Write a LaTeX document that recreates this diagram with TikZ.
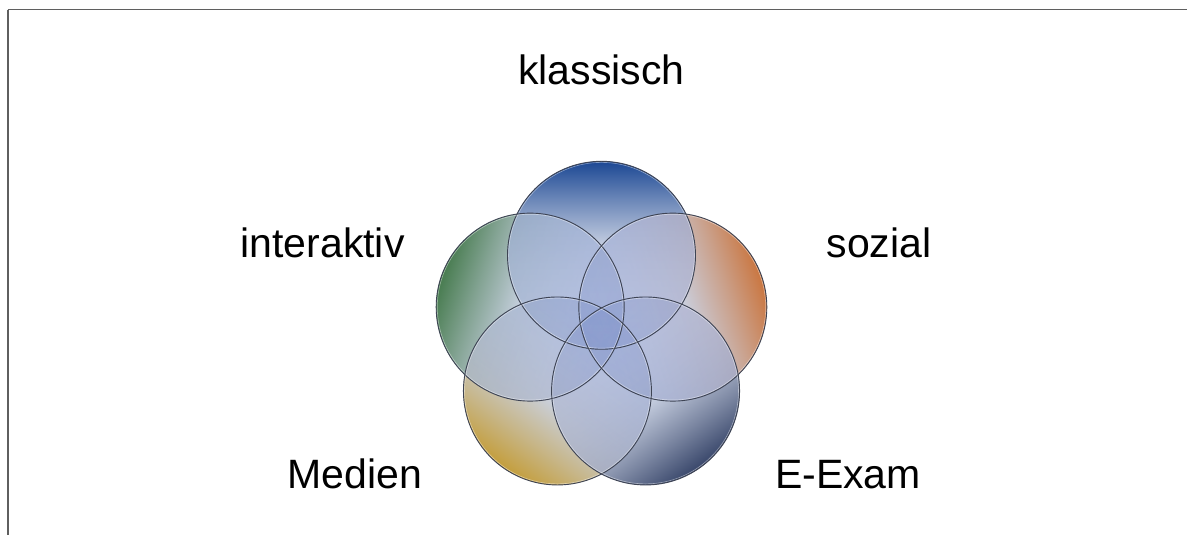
\documentclass[tikz,border=0pt]{standalone}
\usepackage{fontspec}
\setmainfont{Liberation Sans}
\usetikzlibrary{fadings,calc}

\definecolor{frameGray}{RGB}{95,95,95}
\definecolor{toneTop}{RGB}{28,72,148}
\definecolor{toneLeft}{RGB}{72,124,80}
\definecolor{toneRight}{RGB}{202,118,64}
\definecolor{toneLowLeft}{RGB}{196,158,60}
\definecolor{toneLowRight}{RGB}{56,70,106}
\definecolor{paleTone}{RGB}{202,210,227}
\definecolor{innerTone}{RGB}{178,190,227}
\definecolor{veilTone}{RGB}{113,135,199}
\definecolor{rimTone}{RGB}{62,68,84}
\colorlet{lobeBase}{toneTop}

% rim colour at the top, easing to a pale tone towards the middle,
% periwinkle below (the path spans 25bp..75bp of the shading)
\pgfdeclareverticalshading[lobeBase]{lobeshade}{100bp}{%
  color(0bp)=(innerTone); color(40bp)=(innerTone); color(52bp)=(paleTone);
  color(65bp)=(lobeBase!55!paleTone); color(75bp)=(lobeBase); color(100bp)=(lobeBase)}

% opaque at the outer rim, clear from the middle inwards
\tikzfading[name=edgefade, top color=transparent!0, middle color=transparent!100, bottom color=transparent!100]

\tikzset{
  veil/.style={fill=veilTone, fill opacity=0.3},
  lobe/.style={shading=lobeshade, shading angle=#1},
  tint/.style 2 args={path fading=edgefade, fading angle=#2, fill opacity=0.25,
    top color=#1, middle color=paleTone, bottom color=paleTone, shading angle=#2},
  rim/.style={draw=rimTone, line width=0.9pt},
  glint/.style={draw=white, line width=0.6pt, opacity=0.45},
  label/.style={font=\fontsize{41}{49}\selectfont, anchor=base, inner sep=0pt},
  framing/.style={draw=frameGray}
}

% open a scope that keeps its contents away from the given circle
\newcommand\awayfrom[1]{\begin{scope}[even odd rule]\clip (-20,-20) rectangle (1210,560) (#1) circle (94);}

% coloured body of one circle, only where no other circle lies over it
\newcommand\coloredlobe[7]{%
  \colorlet{lobeBase}{#2}%
  \awayfrom{#4}\awayfrom{#5}\awayfrom{#6}\awayfrom{#7}%
    \shade[lobe=#3] (#1) circle (94);
  \end{scope}\end{scope}\end{scope}\end{scope}}

\begin{document}
\begin{tikzpicture}[x=1pt,y=1pt]
\useasboundingbox (0,0) rectangle (1187,535);

% page frame (top and left edges)
\coordinate (fl) at (7.5,0);
\coordinate (fc) at (7.5,525);
\coordinate (fr) at (1187,525);
\draw[framing, line width=2pt] (fl) -- (fc);
\draw[framing, line width=1pt] (fc) -- (fr);

% five circles on a pentagon around the centre
\coordinate (o) at (601.5,204.7);
\coordinate (cT)  at ($(o)+(90:75)$);
\coordinate (cL)  at ($(o)+(162:75)$);
\coordinate (cR)  at ($(o)+(18:75)$);
\coordinate (cBL) at ($(o)+(234:75)$);
\coordinate (cBR) at ($(o)+(306:75)$);

% translucent body of each circle, darker where they overlap
\foreach \c in {cT,cL,cR,cBL,cBR}
  \fill[veil] (\c) circle (94);

% faint colour carried into the overlaps
\shade[tint={toneTop}{0}]        (cT)  circle (94);
\shade[tint={toneLeft}{72}]      (cL)  circle (94);
\shade[tint={toneRight}{-72}]    (cR)  circle (94);
\shade[tint={toneLowLeft}{144}]  (cBL) circle (94);
\shade[tint={toneLowRight}{216}] (cBR) circle (94);

% full colour where a circle stands alone
\coloredlobe{cT}{toneTop}{0}{cL}{cR}{cBL}{cBR}
\coloredlobe{cL}{toneLeft}{72}{cT}{cR}{cBL}{cBR}
\coloredlobe{cR}{toneRight}{-72}{cT}{cL}{cBL}{cBR}
\coloredlobe{cBL}{toneLowLeft}{144}{cT}{cL}{cR}{cBR}
\coloredlobe{cBR}{toneLowRight}{216}{cT}{cL}{cR}{cBL}

% outlines
\foreach \c in {cT,cL,cR,cBL,cBR} {
  \draw[glint] (\c) circle (92.9);
  \draw[rim] (\c) circle (94);
}

% labels
\node[label] (klassisch)  at (601.5,450) {klassisch};
\node[label] (interaktiv) at (322.5,277.5) {interaktiv};
\node[label] (sozial)     at (879,277.5) {sozial};
\node[label] (medien)     at (355,46) {Medien};
\node[label] (eexam)      at (848,46) {E-Exam};
\end{tikzpicture}
\end{document}
